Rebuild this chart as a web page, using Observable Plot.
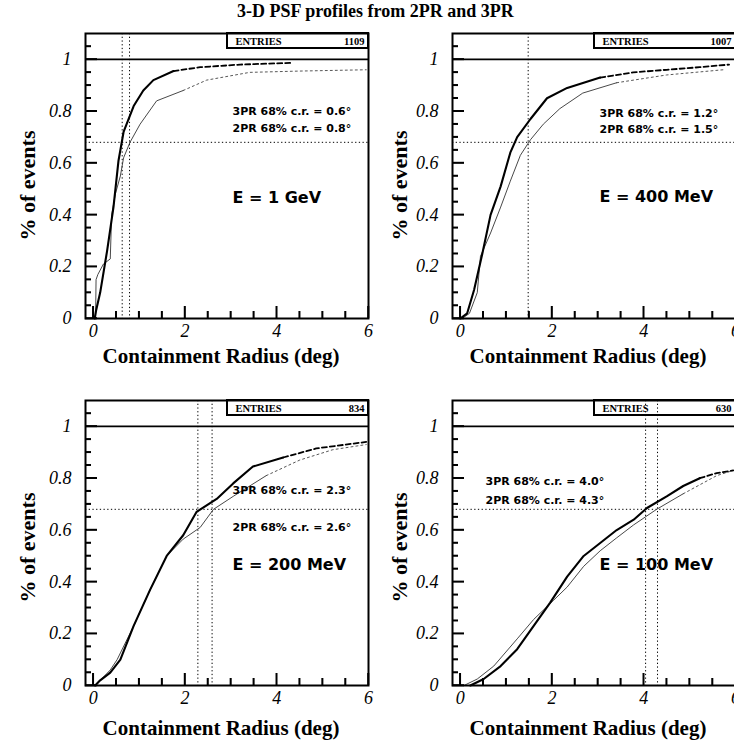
<!DOCTYPE html>
<html>
<head>
<meta charset="utf-8">
<script src="https://cdn.jsdelivr.net/npm/d3@7"></script>
<script src="https://cdn.jsdelivr.net/npm/@observablehq/plot@0.6"></script>
<style>
  html, body { margin: 0; padding: 0; background: #fff; }
  #root { position: relative; width: 734px; height: 744px; overflow: hidden; background: #fff; }
  #title { position: absolute; left: 237px; top: 1px; font: bold 18px "Liberation Serif", "Times New Roman", serif; white-space: nowrap; color: #000; }
  .panel { position: absolute; width: 372px; }
</style>
</head>
<body>
<div id="root"><div id="title">3-D PSF profiles from 2PR and 3PR</div></div>
<script>
// ---------------- data ----------------
const energyLabels = ["E = 1 GeV", "E = 400 MeV", "E = 200 MeV", "E = 100 MeV"];
const entries = [1109, 1007, 834, 630];
const cr3PR = [0.6, 1.2, 2.3, 4.0];
const cr2PR = [0.8, 1.5, 2.6, 4.3];
const crMarked = [[0.63, 0.79], [1.48], [2.28, 2.59], [4.04, 4.3]];
const containmentLevel = 0.68;

const xMajorTicks = [0, 2, 4, 6];
const xMinorTicks = [0.5, 1, 1.5, 2.5, 3, 3.5, 4.5, 5, 5.5];
const yMajorTicks = [0, 0.2, 0.4, 0.6, 0.8, 1];
const yMinorTicks = [0.05, 0.1, 0.15, 0.25, 0.3, 0.35, 0.45, 0.5, 0.55, 0.65, 0.7, 0.75, 0.85, 0.9, 0.95, 1.05];

// cumulative fraction vs containment radius (deg)
const pr3_1GeV = [[0.03,0],[0.06,0.03],[0.15,0.1],[0.3,0.26],[0.44,0.43],[0.55,0.61],[0.66,0.72],[0.88,0.82],[1.09,0.88],[1.31,0.92],[1.75,0.955],[2.33,0.97],[3.2,0.98],[4.35,0.987]];
const pr2_1GeV = [[0.02,0],[0.05,0.0],[0.06,0.15],[0.1,0.17],[0.22,0.21],[0.37,0.23],[0.4,0.4],[0.48,0.48],[0.59,0.55],[0.66,0.62],[0.8,0.68],[1.02,0.75],[1.38,0.84],[1.96,0.88],[2.47,0.92],[3.41,0.95],[4.5,0.955],[5.95,0.96]];
const pr3_400MeV = [[0.0,0],[0.15,0.02],[0.3,0.11],[0.48,0.25],[0.66,0.4],[0.88,0.51],[1.09,0.64],[1.24,0.7],[1.53,0.77],[1.89,0.85],[2.33,0.89],[3.05,0.93],[3.77,0.95],[4.5,0.96],[5.22,0.97],[5.86,0.98]];
const pr2_400MeV = [[0.04,0],[0.2,0.02],[0.37,0.1],[0.44,0.24],[0.66,0.33],[0.88,0.43],[1.09,0.53],[1.31,0.63],[1.53,0.69],[1.81,0.75],[2.17,0.81],[2.67,0.87],[3.41,0.91],[4.5,0.94],[5.73,0.96]];
const pr3_200MeV = [[0.04,0],[0.15,0.02],[0.37,0.05],[0.59,0.1],[0.88,0.23],[1.24,0.37],[1.6,0.5],[1.96,0.58],[2.25,0.67],[2.69,0.72],[3.05,0.78],[3.48,0.845],[4.14,0.88],[4.86,0.915],[5.95,0.94]];
const pr2_200MeV = [[0.04,0],[0.37,0.06],[0.52,0.1],[0.88,0.23],[1.24,0.37],[1.6,0.5],[1.96,0.565],[2.33,0.61],[2.62,0.68],[3.05,0.73],[3.77,0.81],[4.5,0.87],[5.22,0.91],[5.95,0.93]];
const pr3_100MeV = [[0.22,0],[0.51,0.025],[0.88,0.075],[1.24,0.14],[1.6,0.23],[1.96,0.32],[2.33,0.42],[2.69,0.5],[3.05,0.55],[3.41,0.6],[3.78,0.64],[4.07,0.685],[4.5,0.73],[4.86,0.77],[5.22,0.8],[5.59,0.82],[5.95,0.83]];
const pr2_100MeV = [[0.08,0],[0.37,0.025],[0.73,0.075],[1.24,0.18],[1.6,0.255],[2.04,0.33],[2.33,0.38],[2.69,0.46],[3.05,0.52],[3.41,0.57],[3.78,0.62],[4.28,0.68],[4.86,0.74],[5.59,0.81],[5.95,0.83]];

const curves3PR = [pr3_1GeV, pr3_400MeV, pr3_200MeV, pr3_100MeV];
const curves2PR = [pr2_1GeV, pr2_400MeV, pr2_200MeV, pr2_100MeV];

// ---------------- layout / style ----------------
const root = document.getElementById("root");
const W = 372, ML = 85, MR = 4;
const FW = W - ML - MR;            // frame width (px)
const FH = 285;                    // frame height (px)
const serif = "Liberation Serif";
const sans = "DejaVu Sans";
// radius beyond which the sparse tail of each histogram looks broken
const tail3 = [1.75, 3.05, 4.14, 5.22];
const tail2 = [1.96, 3.41, 3.77, 4.86];

const placements = [
  {left: 0,   top: 25,  mt: 8,  mb: 54, ylabDx: -58, xlabDy: 38, ylabEnd: 207, t3: [147, 78], t2: [147, 95],  tE: [147, 164]},
  {left: 367, top: 25,  mt: 8,  mb: 54, ylabDx: -53, xlabDy: 38, ylabEnd: 207, t3: [147, 80], t2: [147, 96],  tE: [147, 163]},
  {left: 0,   top: 372, mt: 28, mb: 59, ylabDx: -58, xlabDy: 43, ylabEnd: 202, t3: [147, 90], t2: [147, 127], tE: [147, 164]},
  {left: 367, top: 372, mt: 28, mb: 59, ylabDx: -53, xlabDy: 43, ylabEnd: 202, t3: [33, 81],  t2: [33, 100], tE: [147, 164]}
];

const fmtY = d => String(+d.toFixed(1));
const blank = () => "";

placements.forEach((p, i) => {
  const H = p.mt + FH + p.mb;
  const c3 = curves3PR[i], c2 = curves2PR[i];
  const chart = Plot.plot({
    width: W,
    height: H,
    marginLeft: ML,
    marginRight: MR,
    marginTop: p.mt,
    marginBottom: p.mb,
    style: {background: "none", overflow: "visible"},
    x: {domain: [-0.17, 6]},
    y: {domain: [0, 1.1]},
    marks: [
      // inward ticks (minor, then major)
      Plot.axisX(xMinorTicks, {tickSize: -7, tickFormat: blank, label: null, stroke: "#000", strokeWidth: 1.5}),
      Plot.axisX(xMajorTicks, {tickSize: -12, tickFormat: blank, label: null, stroke: "#000", strokeWidth: 1.5}),
      Plot.axisY(yMinorTicks, {tickSize: -6, tickFormat: blank, label: null, stroke: "#000", strokeWidth: 1.5}),
      Plot.axisY(yMajorTicks, {tickSize: -12, tickFormat: blank, label: null, stroke: "#000", strokeWidth: 1.5}),
      // reference lines
      Plot.ruleY([1], {stroke: "#000", strokeWidth: 1.6}),
      Plot.ruleY([containmentLevel], {stroke: "#000", strokeWidth: 1, strokeDasharray: "1.3 2.4"}),
      Plot.ruleX(crMarked[i], {stroke: "#000", strokeWidth: 1, strokeDasharray: "1.3 2.4"}),
      // curves: 2PR thin, 3PR thick; sparse tails drawn broken
      Plot.line(c2.filter(d => d[0] <= tail2[i]), {x: d => d[0], y: d => d[1], stroke: "#333", strokeWidth: 0.9}),
      Plot.line(c2.filter(d => d[0] >= tail2[i]), {x: d => d[0], y: d => d[1], stroke: "#444", strokeWidth: 0.9, strokeDasharray: "2 3"}),
      Plot.line(c3.filter(d => d[0] <= tail3[i]), {x: d => d[0], y: d => d[1], stroke: "#000", strokeWidth: 2.1}),
      Plot.line(c3.filter(d => d[0] >= tail3[i]), {x: d => d[0], y: d => d[1], stroke: "#000", strokeWidth: 1.8, strokeDasharray: "5 3"}),
      // tick labels
      Plot.axisX(xMajorTicks, {tickSize: 0, tickPadding: 6, label: null, fontSize: 18, fontStyle: "italic", fontFamily: serif, fill: "#000"}),
      Plot.axisY(yMajorTicks, {tickSize: 0, tickPadding: 14, tickFormat: fmtY, label: null, fontSize: 18, fontStyle: "italic", fontFamily: serif, fill: "#000"}),
      // axis titles
      Plot.text(["Containment Radius (deg)"], {frameAnchor: "bottom", lineAnchor: "middle", dy: p.xlabDy, dx: -6, fontSize: 21, fontWeight: "bold", fontFamily: serif}),
      Plot.text(["% of events"], {frameAnchor: "top-left", lineAnchor: "middle", dx: p.ylabDx, dy: p.ylabEnd, rotate: -90, textAnchor: "start", fontSize: 22, fontWeight: "bold", fontFamily: serif}),
      // annotations
      Plot.text([`3PR 68% c.r. = ${cr3PR[i].toFixed(1)}°`], {frameAnchor: "top-left", lineAnchor: "middle", dx: p.t3[0], dy: p.t3[1], textAnchor: "start", fontSize: 11, fontWeight: "bold", fontFamily: sans}),
      Plot.text([`2PR 68% c.r. = ${cr2PR[i].toFixed(1)}°`], {frameAnchor: "top-left", lineAnchor: "middle", dx: p.t2[0], dy: p.t2[1], textAnchor: "start", fontSize: 11, fontWeight: "bold", fontFamily: sans}),
      Plot.text([energyLabels[i]], {frameAnchor: "top-left", lineAnchor: "middle", dx: p.tE[0], dy: p.tE[1], textAnchor: "start", fontSize: 16, fontWeight: "bold", fontFamily: sans}),
      // statistics box
      Plot.text(["ENTRIES"], {frameAnchor: "top-left", lineAnchor: "middle", dx: 150, dy: 8, textAnchor: "start", fontSize: 10.5, fontWeight: "bold", fontFamily: serif}),
      Plot.text([String(entries[i])], {frameAnchor: "top-right", lineAnchor: "middle", dx: -4, dy: 8, textAnchor: "end", fontSize: 10.5, fontWeight: "bold", fontFamily: serif}),
      Plot.frame({stroke: "#000", strokeWidth: 2})
    ]
  });
  const svg = d3.select(chart);
  // draw inward ticks again through the chart's own scales
  const sx = chart.scale("x"), sy = chart.scale("y");
  const yBase = p.mt + FH;
  const tg = svg.append("g").attr("stroke", "#000").attr("stroke-width", 1.5);
  xMinorTicks.forEach(v => tg.append("line").attr("x1", sx.apply(v)).attr("x2", sx.apply(v)).attr("y1", yBase).attr("y2", yBase - 7));
  xMajorTicks.forEach(v => tg.append("line").attr("x1", sx.apply(v)).attr("x2", sx.apply(v)).attr("y1", yBase).attr("y2", yBase - 12));
  yMinorTicks.forEach(v => tg.append("line").attr("y1", sy.apply(v)).attr("y2", sy.apply(v)).attr("x1", ML).attr("x2", ML + 6));
  yMajorTicks.forEach(v => tg.append("line").attr("y1", sy.apply(v)).attr("y2", sy.apply(v)).attr("x1", ML).attr("x2", ML + 12));
  // entries box outline
  svg.append("rect")
    .attr("x", ML + 142).attr("y", p.mt)
    .attr("width", FW - 142).attr("height", 15)
    .attr("fill", "none").attr("stroke", "#000").attr("stroke-width", 2);
  const div = document.createElement("div");
  div.className = "panel";
  div.style.left = p.left + "px";
  div.style.top = p.top + "px";
  div.appendChild(chart);
  root.appendChild(div);
});
</script>
</body>
</html>
